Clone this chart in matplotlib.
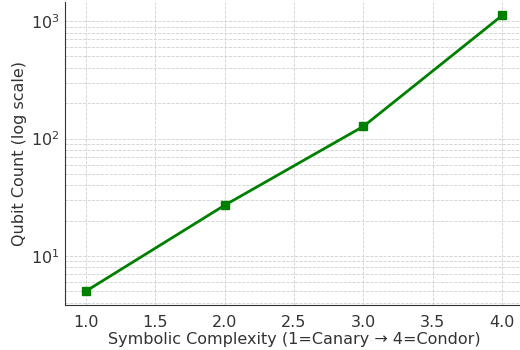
import matplotlib
matplotlib.use("Agg")
import matplotlib.pyplot as plt

complexity = [1, 2, 3, 4]
qubits = [5, 27, 127, 1121]

plt.rcParams.update({
    "font.family": "DejaVu Sans",
    "font.size": 11.5,
    "text.color": "#333333",
    "axes.labelcolor": "#333333",
    "xtick.color": "#333333",
    "ytick.color": "#333333",
    "axes.edgecolor": "#333333",
})

fig = plt.figure(figsize=(5.2, 3.5), dpi=100)
ax = fig.add_axes([0.125, 0.1286, 0.881, 0.867])

ax.plot(complexity, qubits, color="green", marker="s", markersize=6, linewidth=2)
ax.set_yscale("log")
ax.grid(True, which="both", linestyle="--", linewidth=0.6, color="#d0d0d0")
ax.tick_params(which="both", direction="in", length=0)
ax.tick_params(axis="x", pad=7)
ax.tick_params(axis="y", pad=4)
ax.set_xlabel("Symbolic Complexity (1=Canary → 4=Condor)", labelpad=2)
ax.set_ylabel("Qubit Count (log scale)", labelpad=3)
ax.spines["top"].set_visible(False)
ax.spines["right"].set_visible(False)

fig.savefig("out.png", dpi=100)
